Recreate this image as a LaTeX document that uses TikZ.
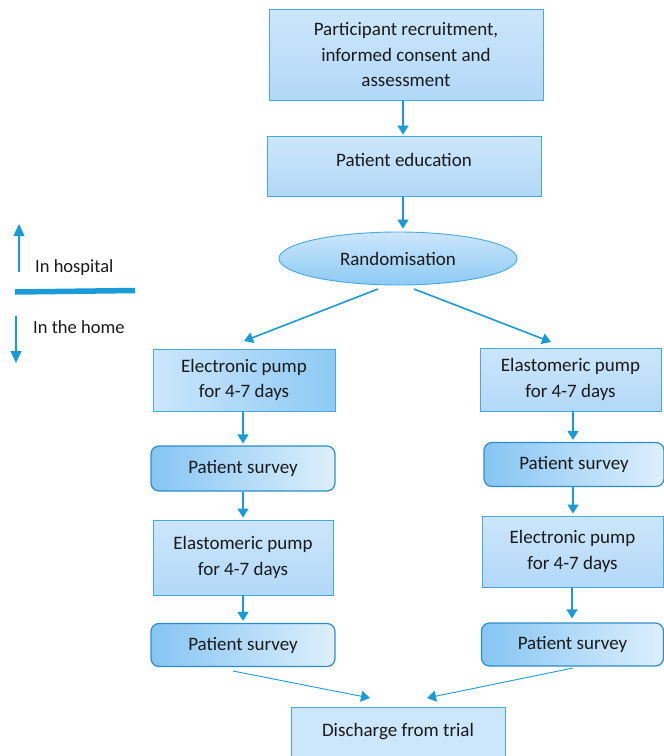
\documentclass[tikz,border=0pt]{standalone}
\usepackage{fontspec}
\setmainfont{Carlito}
\usetikzlibrary{arrows.meta,shapes.geometric}
\definecolor{arr}{HTML}{1B9AD8}
\definecolor{bord}{HTML}{45A9E3}
\definecolor{sbord}{HTML}{2B8DCF}
\definecolor{lightA}{HTML}{CCE6FB}
\definecolor{lightB}{HTML}{B2D8F8}
\definecolor{midB}{HTML}{8DCAF5}
\definecolor{survL}{HTML}{86C5F3}
\definecolor{survR}{HTML}{DDEFFC}
\definecolor{txt}{HTML}{1A1A1A}
\tikzset{
  box/.style={draw=bord, line width=0.9pt, rectangle, align=center, text=txt,
    font=\fontsize{19}{25.5}\selectfont, inner sep=0pt},
  survey/.style={draw=sbord, line width=1.2pt, rectangle, rounded corners=8pt,
    left color=survL, right color=survR, align=center, text=txt,
    font=\fontsize{19}{25}\selectfont, inner sep=0pt},
  conn/.style={draw=arr, line width=1.6pt, -{Triangle[width=11pt,length=9pt]}},
  thinconn/.style={draw=arr, line width=0.9pt, -{Triangle[width=11pt,length=9pt]}},
  legtext/.style={text=txt, font=\fontsize{18.5}{22}\selectfont, anchor=west, inner sep=0pt}
}
\begin{document}
\begin{tikzpicture}[x=1pt,y=-1pt]
\useasboundingbox (0,0) rectangle (664,756);
\clip (0,0) rectangle (664,756);
% top boxes
\node[box, minimum width=274pt, minimum height=91pt, top color=lightA, bottom color=lightB] (rec) at (406,54.5)
  {Participant recruitment,\\ informed consent and\\ assessment};
\node[box, minimum width=274pt, minimum height=60pt, top color=lightA, bottom color=lightB] (edu) at (404,166)
  {\raisebox{12pt}{Patient education}};
\node[box, ellipse, minimum width=238pt, minimum height=53pt, top color=lightA, bottom color=midB] (rand) at (398,258.5)
  {Randomisation};
% left column
\node[box, minimum width=182pt, minimum height=62pt, left color=lightA, right color=midB] (el1) at (244,380)
  {Electronic pump\\ for 4-7 days};
\node[survey, minimum width=184pt, minimum height=45pt] (sl1) at (243,468.5) {Patient survey};
\node[box, minimum width=180pt, minimum height=75pt, top color=lightA, bottom color=lightB] (el2) at (243,557.5)
  {\raisebox{4pt}{\begin{tabular}{@{}c@{}}Elastomeric pump\\ for 4-7 days\end{tabular}}};
\node[survey, minimum width=184pt, minimum height=43pt] (sl2) at (243,645) {Patient survey};
% right column
\node[box, minimum width=181pt, minimum height=63pt, top color=lightA, bottom color=lightB] (er1) at (570.5,379.5)
  {Elastomeric pump\\ for 4-7 days};
\node[survey, minimum width=180pt, minimum height=44pt] (sr1) at (574,464.5) {Patient survey};
\node[box, minimum width=181pt, minimum height=71pt, top color=lightA, bottom color=lightB] (er2) at (572.5,551.5)
  {Electronic pump\\ for 4-7 days};
\node[survey, minimum width=182pt, minimum height=43pt] (sr2) at (572.5,644.5) {Patient survey};
% discharge box
\node[box, minimum width=214pt, minimum height=70pt, fill=lightA, anchor=north] (dis) at (398,707)
  {\raisebox{25pt}{Discharge from trial}};
% connector end points
\coordinate (r1) at (378,289);
\coordinate (r2) at (414,289);
\coordinate (l1end) at (244,341);
\coordinate (r1end) at (551,342);
\coordinate (sl2s) at (233,671);
\coordinate (sr2s) at (573,668);
\coordinate (d1) at (370,698);
\coordinate (d2) at (427,698);
% connectors
\draw[conn, shorten >=1pt] (rec.south -| 403,0) -- (edu.north -| 403,0);
\draw[conn, shorten >=3pt] (edu.south -| 403,0) -- (rand.north -| 403,0);
\draw[conn] (r1) -- (l1end);
\draw[conn] (r2) -- (r1end);
\draw[conn, shorten >=2pt] (el1.south -| 243,0) -- (sl1.north -| 243,0);
\draw[conn, shorten >=2pt] (sl1.south -| 243,0) -- (el2.north -| 243,0);
\draw[conn, shorten >=2pt] (el2.south -| 243,0) -- (sl2.north -| 243,0);
\draw[conn, shorten >=2pt] (er1.south -| 573,0) -- (sr1.north -| 573,0);
\draw[conn, shorten >=2pt] (sr1.south -| 573,0) -- (er2.north -| 573,0);
\draw[conn, shorten >=4pt] (er2.south -| 572,0) -- (sr2.north -| 572,0);
\draw[thinconn] (sl2s) -- (d1);
\draw[thinconn] (sr2s) -- (d2);
% legend
\coordinate (upS) at (19,272);
\coordinate (upE) at (19,224);
\coordinate (dnS) at (16,316);
\coordinate (dnE) at (16,363);
\coordinate (lnA) at (15,292);
\coordinate (lnB) at (135,290.5);
\draw[draw=arr, line width=1.1pt, -{Triangle[width=11pt,length=12pt]}] (upS) -- (upE);
\draw[draw=arr, line width=1.1pt, -{Triangle[width=11pt,length=12pt]}] (dnS) -- (dnE);
\draw[draw=arr, line width=5.5pt] (lnA) -- (lnB);
\node[legtext] (hosp) at (35,268) {In hospital};
\node[legtext] (home) at (33,327) {In the home};
\end{tikzpicture}
\end{document}
